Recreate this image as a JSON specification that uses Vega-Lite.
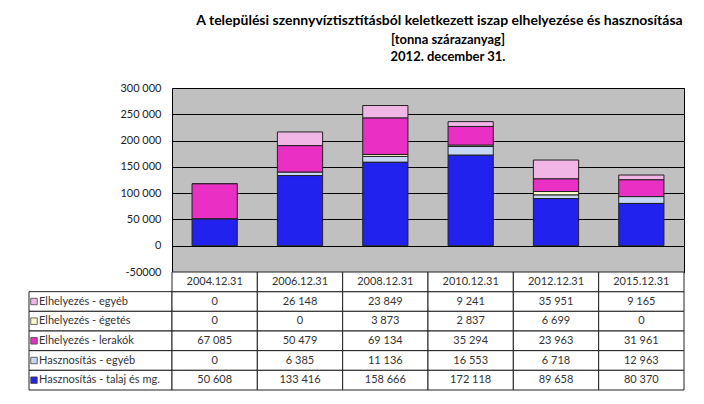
{
  "$schema": "https://vega.github.io/schema/vega-lite/v6.json",
  "background": "white",
  "padding": {"left": 28, "top": 13, "right": 21, "bottom": 5},
  "config": {
    "locale": {"number": {"decimal": ",", "thousands": " ", "grouping": [3], "currency": ["", ""], "minus": "-"}},
    "font": "Lato",
    "view": {"stroke": null}
  },
  "title": {
    "text": "A települési szennyvíztisztításból  keletkezett iszap elhelyezése és hasznosítása",
    "fontSize": 14, "fontWeight": "bold", "font": "Lato", "anchor": "middle", "dx": 83, "offset": 6, "color": "#000"
  },
  "datasets": {
    "sludge": [
      {"date": "2004.12.31", "series": "Elhelyezés - egyéb", "value": 0},
      {"date": "2006.12.31", "series": "Elhelyezés - egyéb", "value": 26148},
      {"date": "2008.12.31", "series": "Elhelyezés - egyéb", "value": 23849},
      {"date": "2010.12.31", "series": "Elhelyezés - egyéb", "value": 9241},
      {"date": "2012.12.31", "series": "Elhelyezés - egyéb", "value": 35951},
      {"date": "2015.12.31", "series": "Elhelyezés - egyéb", "value": 9165},
      {"date": "2004.12.31", "series": "Elhelyezés - égetés", "value": 0},
      {"date": "2006.12.31", "series": "Elhelyezés - égetés", "value": 0},
      {"date": "2008.12.31", "series": "Elhelyezés - égetés", "value": 3873},
      {"date": "2010.12.31", "series": "Elhelyezés - égetés", "value": 2837},
      {"date": "2012.12.31", "series": "Elhelyezés - égetés", "value": 6699},
      {"date": "2015.12.31", "series": "Elhelyezés - égetés", "value": 0},
      {"date": "2004.12.31", "series": "Elhelyezés - lerakók", "value": 67085},
      {"date": "2006.12.31", "series": "Elhelyezés - lerakók", "value": 50479},
      {"date": "2008.12.31", "series": "Elhelyezés - lerakók", "value": 69134},
      {"date": "2010.12.31", "series": "Elhelyezés - lerakók", "value": 35294},
      {"date": "2012.12.31", "series": "Elhelyezés - lerakók", "value": 23963},
      {"date": "2015.12.31", "series": "Elhelyezés - lerakók", "value": 31961},
      {"date": "2004.12.31", "series": "Hasznosítás - egyéb", "value": 0},
      {"date": "2006.12.31", "series": "Hasznosítás - egyéb", "value": 6385},
      {"date": "2008.12.31", "series": "Hasznosítás - egyéb", "value": 11136},
      {"date": "2010.12.31", "series": "Hasznosítás - egyéb", "value": 16553},
      {"date": "2012.12.31", "series": "Hasznosítás - egyéb", "value": 6718},
      {"date": "2015.12.31", "series": "Hasznosítás - egyéb", "value": 12963},
      {"date": "2004.12.31", "series": "Hasznosítás - talaj és mg.", "value": 50608},
      {"date": "2006.12.31", "series": "Hasznosítás - talaj és mg.", "value": 133416},
      {"date": "2008.12.31", "series": "Hasznosítás - talaj és mg.", "value": 158666},
      {"date": "2010.12.31", "series": "Hasznosítás - talaj és mg.", "value": 172118},
      {"date": "2012.12.31", "series": "Hasznosítás - talaj és mg.", "value": 89658},
      {"date": "2015.12.31", "series": "Hasznosítás - talaj és mg.", "value": 80370}
    ]
  },
  "columns": 2,
  "bounds": "flush",
  "spacing": 0,
  "concat": [
    {
      "width": 143, "height": 184,
      "data": {"values": []},
      "mark": "text",
      "encoding": {}
    },
    {
      "width": 512, "height": 184,
      "data": {"name": "sludge"},
      "title": {
        "text": ["[tonna szárazanyag]", "2012. december 31."],
        "fontSize": 13, "fontWeight": "bold", "anchor": "middle", "dx": 20, "offset": 18, "lineHeight": 17, "color": "#000"
      },
      "view": {"fill": "#c0c0c0", "stroke": "#000", "strokeWidth": 1},
      "mark": {"type": "bar", "stroke": "#222", "strokeWidth": 1},
      "encoding": {
        "x": {"field": "date", "type": "nominal", "axis": null, "sort": null, "scale": {"paddingInner": 0.47, "paddingOuter": 0.235}},
        "y": {
          "field": "value", "type": "quantitative", "stack": "zero",
          "scale": {"domain": [-50000, 300000], "nice": false},
          "axis": {
            "title": null, "values": [-50000, 0, 50000, 100000, 150000, 200000, 250000, 300000],
            "format": ",d",
            "labelExpr": "datum.value < 0 ? '-' + format(-datum.value, 'd') : datum.label",
            "domain": false, "ticks": false, "labelPadding": 11, "labelFontSize": 11, "labelColor": "#222",
            "grid": true, "gridColor": "#000", "gridOpacity": 1, "gridWidth": 1
          }
        },
        "color": {
          "field": "series", "type": "nominal", "legend": null,
          "sort": ["Hasznosítás - talaj és mg.", "Hasznosítás - egyéb", "Elhelyezés - lerakók", "Elhelyezés - égetés", "Elhelyezés - egyéb"],
          "scale": {
            "domain": ["Hasznosítás - talaj és mg.", "Hasznosítás - egyéb", "Elhelyezés - lerakók", "Elhelyezés - égetés", "Elhelyezés - egyéb"],
            "range": ["#2222ee", "#c8d8f4", "#ea2fc4", "#ffffcc", "#f2b6e6"]
          }
        }
      }
    },
    {
      "width": 143, "height": 118,
      "data": {"name": "sludge"},
      "transform": [{"aggregate": [{"op": "count", "as": "n"}], "groupby": ["series"]}],
      "encoding": {
        "y": {
          "field": "series", "type": "nominal", "axis": null,
          "scale": {"domain": ["fejléc", "Elhelyezés - egyéb", "Elhelyezés - égetés", "Elhelyezés - lerakók", "Hasznosítás - egyéb", "Hasznosítás - talaj és mg."], "padding": 0}
        }
      },
      "layer": [
        {"mark": {"type": "rect", "fill": "white", "stroke": "#222", "strokeWidth": 1}, "encoding": {"x": {"value": 0}, "x2": {"value": "width"}}},
        {
          "mark": {"type": "point", "shape": "square", "filled": true, "size": 42, "stroke": "#444", "strokeWidth": 0.8, "opacity": 1},
          "encoding": {
            "x": {"value": 5},
            "color": {
              "field": "series", "type": "nominal", "legend": null,
              "scale": {
                "domain": ["Hasznosítás - talaj és mg.", "Hasznosítás - egyéb", "Elhelyezés - lerakók", "Elhelyezés - égetés", "Elhelyezés - egyéb"],
                "range": ["#2222ee", "#c8d8f4", "#ea2fc4", "#ffffcc", "#f2b6e6"]
              }
            }
          }
        },
        {"mark": {"type": "text", "align": "left", "baseline": "middle", "fontSize": 11, "color": "#333"}, "encoding": {"x": {"value": 10}, "text": {"field": "series"}}}
      ]
    },
    {
      "width": 512, "height": 118,
      "data": {"name": "sludge"},
      "encoding": {
        "x": {"field": "date", "type": "nominal", "axis": null, "sort": null, "scale": {"padding": 0}}
      },
      "layer": [
        {
          "mark": {"type": "rect", "fill": "white", "stroke": "#222", "strokeWidth": 1},
          "encoding": {"y": {"field": "series", "type": "nominal", "axis": null, "scale": {"domain": ["fejléc", "Elhelyezés - egyéb", "Elhelyezés - égetés", "Elhelyezés - lerakók", "Hasznosítás - egyéb", "Hasznosítás - talaj és mg."], "padding": 0}}}
        },
        {
          "mark": {"type": "text", "baseline": "middle", "fontSize": 11, "color": "#333"},
          "encoding": {"y": {"field": "series", "type": "nominal"}, "text": {"field": "value", "type": "quantitative", "format": ",d"}}
        },
        {
          "transform": [{"aggregate": [{"op": "count", "as": "n"}], "groupby": ["date"]}],
          "layer": [
            {"mark": {"type": "rect", "fill": "white", "stroke": "#222", "strokeWidth": 1}, "encoding": {"y": {"datum": "fejléc", "type": "nominal"}}},
            {"mark": {"type": "text", "baseline": "middle", "fontSize": 11, "color": "#333"}, "encoding": {"y": {"datum": "fejléc", "type": "nominal"}, "text": {"field": "date"}}}
          ]
        }
      ]
    }
  ]
}
